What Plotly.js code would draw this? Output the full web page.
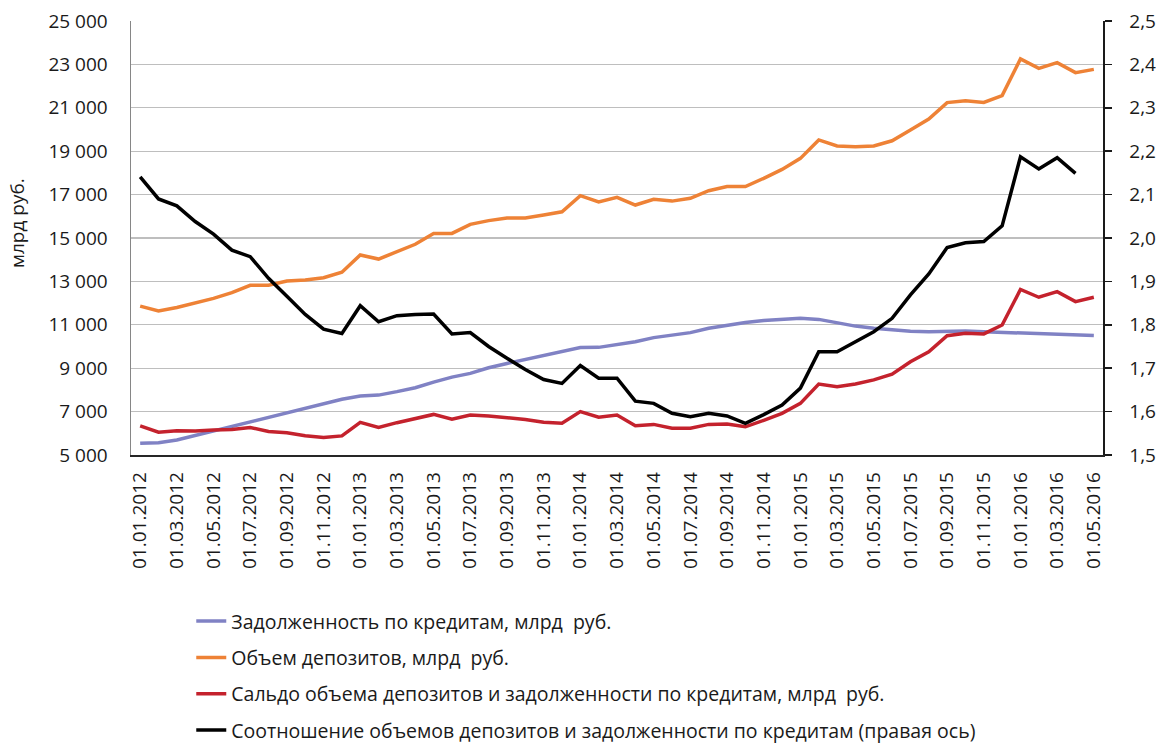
<!DOCTYPE html>
<html>
<head>
<meta charset="utf-8">
<script src="https://cdn.plot.ly/plotly-3.0.1.min.js"></script>
<style>
html,body{margin:0;padding:0;background:#fff;}
#chart{width:1156px;height:744px;}
</style>
</head>
<body>
<div id="chart"></div>
<script>
const dates = ["01.01.2012","01.02.2012","01.03.2012","01.04.2012","01.05.2012","01.06.2012","01.07.2012","01.08.2012","01.09.2012","01.10.2012","01.11.2012","01.12.2012",
"01.01.2013","01.02.2013","01.03.2013","01.04.2013","01.05.2013","01.06.2013","01.07.2013","01.08.2013","01.09.2013","01.10.2013","01.11.2013","01.12.2013",
"01.01.2014","01.02.2014","01.03.2014","01.04.2014","01.05.2014","01.06.2014","01.07.2014","01.08.2014","01.09.2014","01.10.2014","01.11.2014","01.12.2014",
"01.01.2015","01.02.2015","01.03.2015","01.04.2015","01.05.2015","01.06.2015","01.07.2015","01.08.2015","01.09.2015","01.10.2015","01.11.2015","01.12.2015",
"01.01.2016","01.02.2016","01.03.2016","01.04.2016","01.05.2016"];

const tickLabels = ["01.01.2012","01.03.2012","01.05.2012","01.07.2012","01.09.2012","01.11.2012",
"01.01.2013","01.03.2013","01.05.2013","01.07.2013","01.09.2013","01.11.2013",
"01.01.2014","01.03.2014","01.05.2014","01.07.2014","01.09.2014","01.11.2014",
"01.01.2015","01.03.2015","01.05.2015","01.07.2015","01.09.2015","01.11.2015",
"01.01.2016","01.03.2016","01.05.2016"];

const loans = [5540,5570,5690,5900,6120,6310,6540,6740,6970,7180,7380,7570,
7720,7760,7920,8100,8360,8590,8760,9020,9220,9410,9610,9760,
9950,9960,10070,10220,10410,10530,10640,10840,10990,11110,11200,11270,
11300,11250,11100,10940,10840,10760,10700,10680,10700,10710,10680,10650,
10640,10590,10580,10530,10510];

const deposits = [11860,11640,11800,11990,12220,12480,12820,12820,13020,13060,13170,13420,
14220,14030,14370,14710,15210,15210,15630,15800,15920,15920,16060,16210,
16950,16660,16870,16520,16780,16700,16830,17180,17370,17370,17750,18160,
18670,19520,19240,19210,19240,19480,19980,20480,21240,21330,21250,21560,
23250,22820,23080,22620,22770];

const saldo = [6340,6050,6120,6110,6150,6170,6270,6080,6030,5890,5810,5880,
6505,6275,6490,6660,6870,6650,6840,6800,6740,6640,6505,6460,
7000,6740,6840,6350,6410,6230,6230,6410,6430,6300,6600,6920,
7380,8270,8150,8270,8460,8720,9300,9760,10500,10610,10580,10990,
12630,12270,12530,12070,12270];

const ratio = [2.141,2.090,2.074,2.038,2.009,1.972,1.957,1.907,1.866,1.824,1.790,1.780,
1.844,1.807,1.821,1.824,1.825,1.779,1.782,1.750,1.723,1.697,1.674,1.665,
1.706,1.677,1.677,1.624,1.619,1.596,1.588,1.596,1.590,1.573,1.593,1.615,
1.654,1.738,1.738,1.761,1.784,1.815,1.869,1.917,1.978,1.989,1.992,2.028,
2.187,2.159,2.185,2.149,null];

const names = ["Задолженность по кредитам, млрд\u00a0 руб.",
"Объем депозитов, млрд\u00a0 руб.",
"Сальдо объема депозитов и задолженности по кредитам, млрд\u00a0 руб.",
"Соотношение объемов депозитов и задолженности по кредитам (правая ось)"];

const FONT = "Open Sans, Noto Sans, sans-serif";
const TXT = "#1a1a1a";

const traces = [
  {x: dates, y: loans, name: names[0], type: "scatter", mode: "lines", line: {color: "#8082C4", width: 3.5}, legendgroup: "a"},
  {x: dates, y: deposits, name: names[1], type: "scatter", mode: "lines", line: {color: "#EE8236", width: 3.5}, legendgroup: "b"},
  {x: dates, y: saldo, name: names[2], type: "scatter", mode: "lines", line: {color: "#C4222D", width: 3.5}, legendgroup: "c"},
  {x: dates, y: ratio, name: names[3], type: "scatter", mode: "lines", line: {color: "#000000", width: 3.5}, yaxis: "y2", legendgroup: "d"}
];

const layout = {
  width: 1156, height: 744,
  margin: {l: 131, r: 53, t: 21, b: 289, autoexpand: false},
  paper_bgcolor: "#fff", plot_bgcolor: "#fff",
  separators: ", ",
  font: {family: FONT, size: 19, color: TXT},
  showlegend: true,
  legend: {
    x: 0.062, y: 0.191, xanchor: "left", yanchor: "top", yref: "container",
    orientation: "v", font: {family: FONT, size: 19.5, color: TXT},
    tracegroupgap: 8, itemwidth: 30, bgcolor: "rgba(0,0,0,0)"
  },
  xaxis: {
    type: "category", range: [-0.5, 52.5], automargin: false,
    tickmode: "array", tickvals: tickLabels, ticktext: tickLabels,
    tickangle: -90, ticks: "", ticklabelstandoff: 8,
    showgrid: false, showline: true, linecolor: "#262626", linewidth: 1.5,
    tickfont: {family: FONT, size: 19, color: TXT}, zeroline: false
  },
  yaxis: {
    range: [5000, 25000], dtick: 2000, tick0: 5000, tickformat: ",.0f", automargin: false,
    showgrid: true, gridcolor: "#BEBEBE", gridwidth: 1.3,
    showline: true, linecolor: "#868686", linewidth: 1.5,
    ticks: "", ticklabelstandoff: 18, zeroline: false,
    tickfont: {family: FONT, size: 19, color: TXT}
  },
  yaxis2: {
    overlaying: "y", side: "right", range: [1.5, 2.5], dtick: 0.1, tick0: 1.5, automargin: false,
    tickformat: ".1f", showgrid: false, showline: true, linecolor: "#1a1a1a", linewidth: 1.5,
    ticks: "outside", ticklen: 7, tickcolor: "#1a1a1a", tickwidth: 1.5,
    ticklabelstandoff: 14, zeroline: false,
    tickfont: {family: FONT, size: 19, color: TXT}
  },
  annotations: [{
    text: "млрд руб.", textangle: -90, xref: "paper", yref: "paper",
    x: (17 - 131) / 972, y: (455 - 223) / 434, xanchor: "center", yanchor: "middle",
    showarrow: false, font: {family: FONT, size: 19, color: TXT}
  }]
};

Plotly.newPlot("chart", traces, layout, {displayModeBar: false, staticPlot: true});
</script>
</body>
</html>
